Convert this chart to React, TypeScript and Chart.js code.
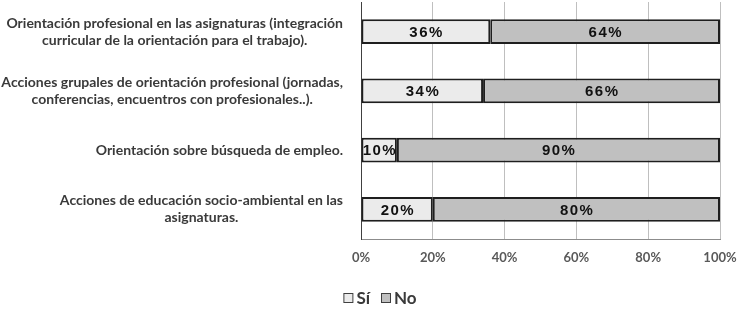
import React, { useEffect, useRef } from "react";
import { Chart, registerables } from "chart.js";

Chart.register(...registerables);

const categories: string[][] = [
  ["Orientación profesional en las asignaturas (integración", "curricular de la orientación para el trabajo)."],
  ["Acciones grupales de orientación profesional (jornadas,", "conferencias, encuentros con profesionales..)."],
  ["Orientación sobre búsqueda de empleo."],
  ["Acciones de educación socio-ambiental en las", "asignaturas."],
];
const siValues = [36, 34, 10, 20];
const noValues = [64, 66, 90, 80];
const seriesNames = ["Sí", "No"];
const seriesColors = ["#EBEBEB", "#C0C0C0"];
const xMin = 0;
const xMax = 100;
const xStep = 20;

const LABEL_FONT = "bold 14px Lato";
const LABEL_RIGHT = 343;
const LINE_H = 17;

const yLabelPlugin = {
  id: "yLabels",
  afterDraw(chart: any) {
    const ctx = chart.ctx;
    const yScale = chart.scales.y;
    ctx.save();
    ctx.font = LABEL_FONT;
    ctx.fillStyle = "#3a3a3a";
    ctx.textAlign = "center";
    ctx.textBaseline = "middle";
    categories.forEach((lines, i) => {
      const yc = yScale.getPixelForValue(i);
      const maxW = Math.max(...lines.map((l) => ctx.measureText(l).width));
      const cx = LABEL_RIGHT - maxW / 2;
      const y0 = yc - ((lines.length - 1) * LINE_H) / 2;
      lines.forEach((l, j) => ctx.fillText(l, cx, y0 + j * LINE_H));
    });
    ctx.restore();
  },
};

const valueLabelPlugin = {
  id: "valueLabels",
  afterDatasetsDraw(chart: any) {
    const ctx = chart.ctx;
    ctx.save();
    ctx.font = "bold 15px 'Liberation Sans', Arial";
    (ctx as any).letterSpacing = "1.5px";
    ctx.fillStyle = "#111";
    ctx.textAlign = "center";
    ctx.textBaseline = "middle";
    chart.data.datasets.forEach((ds: any, di: number) => {
      const meta = chart.getDatasetMeta(di);
      meta.data.forEach((bar: any, i: number) => {
        const { x, y, base } = bar.getProps(["x", "y", "base"], true);
        const cx = (x + base) / 2 + 0.75;
        ctx.fillText(ds.data[i] + "%", cx, y + 1);
      });
    });
    ctx.restore();
  },
};

const legendPlugin = {
  id: "customLegend",
  afterDraw(chart: any) {
    const ctx = chart.ctx;
    ctx.save();
    ctx.font = "bold 17px Lato";
    ctx.textBaseline = "middle";
    ctx.textAlign = "left";
    const box = 10;
    const gapText = 3;
    const gapItem = 11;
    const widths = seriesNames.map((n) => box + gapText + ctx.measureText(n).width);
    const total = widths.reduce((a, b) => a + b, 0) + gapItem * (seriesNames.length - 1);
    let x = 380 - total / 2;
    const yc = 298;
    seriesNames.forEach((n, i) => {
      ctx.fillStyle = seriesColors[i];
      ctx.fillRect(x + 0.5, yc - box / 2 + 0.5, box - 1, box - 1);
      ctx.strokeStyle = "#404040";
      ctx.lineWidth = 1;
      ctx.strokeRect(x + 0.5, yc - box / 2 + 0.5, box - 1, box - 1);
      ctx.fillStyle = "#3a3a3a";
      ctx.fillText(n, x + box + gapText, yc + 1);
      x += widths[i] + gapItem;
    });
    ctx.restore();
  },
};

export default function App() {
  const ref = useRef<HTMLCanvasElement | null>(null);
  useEffect(() => {
    if (!ref.current) return;
    const chart = new Chart(ref.current, {
      type: "bar",
      data: {
        labels: categories.map((c) => c.join(" ")),
        datasets: [
          {
            label: seriesNames[0],
            data: siValues,
            backgroundColor: seriesColors[0],
            borderColor: "#1e1e1e",
            borderWidth: 2,
            borderSkipped: false,
            barPercentage: 0.42,
            categoryPercentage: 1,
          },
          {
            label: seriesNames[1],
            data: noValues,
            backgroundColor: seriesColors[1],
            borderColor: "#1e1e1e",
            borderWidth: 2,
            borderSkipped: false,
            barPercentage: 0.42,
            categoryPercentage: 1,
          },
        ],
      },
      options: {
        indexAxis: "y",
        animation: false,
        responsive: false,
        maintainAspectRatio: false,
        layout: { padding: { left: 22, right: 0, top: 2, bottom: 0 } },
        plugins: {
          tooltip: { enabled: false },
          legend: { display: false },
        },
        scales: {
          x: {
            stacked: true,
            min: xMin,
            max: xMax,
            ticks: {
              stepSize: xStep,
              callback: (v: any) => v + "%",
              color: "#595959",
              font: { family: "Lato", size: 13, weight: "bold" },
              padding: 11,
            },
            grid: { color: "#BFBFBF", lineWidth: 1, drawTicks: false },
            border: { display: true, color: "#8c8c8c", width: 1 },
            afterFit: (s: any) => {
              s.height = 70;
              s.paddingRight = 18;
              s.paddingLeft = 0;
            },
          },
          y: {
            stacked: true,
            ticks: { display: false },
            grid: { display: false },
            border: { display: true, color: "#404040", width: 1 },
            afterFit: (s: any) => {
              s.width = 339;
            },
          },
        },
      },
      plugins: [yLabelPlugin, valueLabelPlugin, legendPlugin],
    } as any);
    return () => chart.destroy();
  }, []);
  return (
    <div style={{ position: "fixed", left: 0, top: 0, width: 738, height: 309, background: "#fff" }}>
      <canvas ref={ref} width={738} height={309} style={{ width: 738, height: 309 }} />
    </div>
  );
}
